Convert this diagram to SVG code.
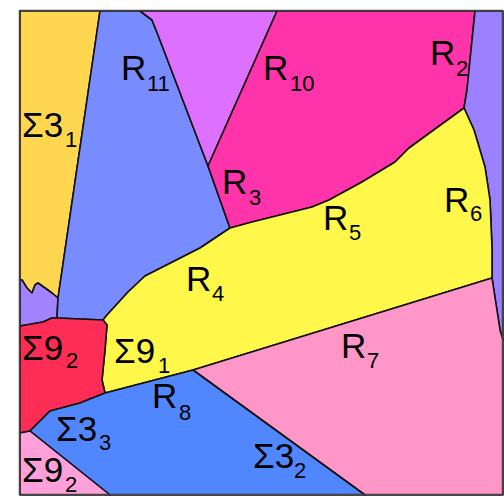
<svg xmlns="http://www.w3.org/2000/svg" width="504" height="496" viewBox="0 0 504 496">
<style>
.g{stroke:#111;stroke-width:1.6;stroke-linejoin:round}
.t{font-family:"Liberation Sans",Arial,sans-serif;font-size:35px;fill:#000}
.s{font-size:22px}
</style>
<rect width="504" height="496" fill="#fff"/>
<g id="grains">
<polygon id="s31" class="g" fill="#FFD650" points="20,11 100,11 58,298 52,293 45,288 38,283 35,285 32,293 27,288 22,280 20,280"/>
<polygon id="lav" class="g" fill="#A283FF" points="20,280 22,280 27,288 32,293 35,285 38,283 45,288 52,293 58,298 57,318 52,318 43,322 20,326"/>
<polygon id="r11" class="g" fill="#788CFF" points="100,11 140,11 152,20 158,35 208,166 230,228 200,248 145,276 128,292 118,303 107,315 103,320 57,318 58,298"/>
<polygon id="viol" class="g" fill="#DE70FF" points="140,11 277,11 208,166 158,35 152,20"/>
<polygon id="mag" class="g" fill="#FF33AA" points="277,11 475,11 470,60 467,90 464,108 409,148 395,162 362,182 329,200 312,207 252,222 230,228 208,166"/>
<polygon id="purp" class="g" fill="#9B80FF" points="475,11 503,11 503,340 500,330 492,278 492,248 490,200 485,167 474,130 464,108 467,90 470,60"/>
<polygon id="yel" class="g" fill="#FFF84A" points="103,320 107,315 118,303 128,292 145,276 200,248 230,228 252,222 312,207 329,200 362,182 395,162 409,148 464,108 474,130 485,167 490,200 492,248 492,278 193,370 105,393 102,380 105,350 107,325"/>
<polygon id="r7" class="g" fill="#FF96C8" points="193,370 492,278 500,330 503,340 503,495 365,495"/>
<polygon id="red" class="g" fill="#FF2D55" points="20,326 43,322 52,318 57,318 103,320 107,325 105,350 102,380 105,393 80,403 50,411 30,431 20,433"/>
<polygon id="r8" class="g" fill="#5087FF" points="30,431 50,411 80,403 105,393 193,370 365,495 110,495"/>
<polygon id="s92b" class="g" fill="#FFA0DA" points="20,433 30,431 110,495 20,495"/>
</g>
<rect x="19.5" y="10.5" width="483" height="484" fill="none" stroke="#444" stroke-width="1.5"/>
<g id="labels" class="t">
<text x="22" y="137">Σ3<tspan class="s" x="65" y="147">1</tspan></text>
<text x="121" y="80">R<tspan class="s" x="147" y="91">11</tspan></text>
<text x="263" y="80">R<tspan class="s" x="290" y="91">10</tspan></text>
<text x="430" y="65">R<tspan class="s" x="456" y="76">2</tspan></text>
<text x="222" y="194">R<tspan class="s" x="249" y="205">3</tspan></text>
<text x="323" y="230">R<tspan class="s" x="349" y="240">5</tspan></text>
<text x="444" y="212">R<tspan class="s" x="470" y="221">6</tspan></text>
<text x="186" y="291">R<tspan class="s" x="212" y="301">4</tspan></text>
<text x="114" y="363">Σ9<tspan class="s" x="158" y="373">1</tspan></text>
<text x="22" y="360">Σ9<tspan class="s" x="66" y="368">2</tspan></text>
<text x="152" y="408">R<tspan class="s" x="179" y="420">8</tspan></text>
<text x="56" y="441">Σ3<tspan class="s" x="99" y="450">3</tspan></text>
<text x="22" y="482">Σ9<tspan class="s" x="65" y="492">2</tspan></text>
<text x="341" y="358">R<tspan class="s" x="367" y="368">7</tspan></text>
<text x="253" y="468">Σ3<tspan class="s" x="294" y="478">2</tspan></text>
</g>
</svg>
